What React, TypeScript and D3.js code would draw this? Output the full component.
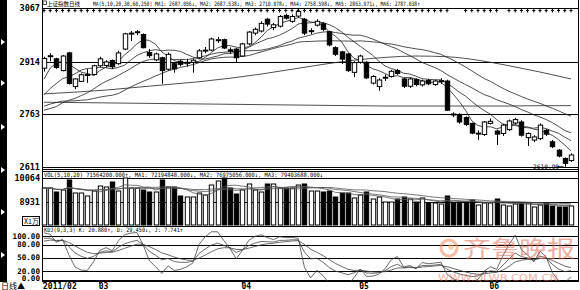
import React from 'react';
import * as d3 from 'd3';

// ---- data (Shanghai Composite daily, 2011-02-16 .. 2011-06-21) ----
const opens = [2895,2929,2922,2888,2939,2842,2857,2875,2877,2902,2903,2917,2908,2950,2995,2998,2992,2940,2919,2925,2892,2908,2915,2910,2912,2925,2946,2947,2976,2977,2948,2950,2930,2965,2996,3002,3036,3012,3016,3047,3030,3045,3036,3001,3019,3023,3000,2954,2942,2936,2883,2912,2912,2852,2842,2868,2871,2888,2864,2843,2862,2847,2860,2848,2857,2858,2763,2762,2753,2736,2707,2704,2736,2714,2707,2718,2737,2740,2695,2688,2692,2716,2683,2659,2635,2629];
const highs = [2928,2938,2925,2933,2942,2866,2880,2893,2905,2928,2918,2920,2945,2997,3002,3005,2995,2950,2940,2928,2940,2912,2920,2922,2922,2950,2956,2983,2985,2980,2955,2953,2968,3002,3012,3030,3040,3025,3048,3052,3050,3067.46,3040,3010,3036,3028,3003,2958,2945,2938,2915,2934,2915,2875,2866,2877,2890,2893,2867,2868,2866,2862,2864,2862,2866,2862,2768,2765,2756,2738,2716,2743,2750,2718,2735,2747,2752,2745,2710,2702,2736,2720,2688,2662,2638,2650];
const lows = [2885,2915,2893,2886,2848,2835,2855,2853,2874,2898,2898,2893,2905,2947,2973,2990,2952,2925,2915,2850,2888,2882,2900,2899,2882,2922,2938,2944,2968,2950,2937,2910,2928,2962,2990,2998,3015,3005,3012,3035,3026,3040,2990,2993,3015,3002,2958,2930,2907,2884,2869,2908,2864,2848,2830,2858,2868,2876,2838,2838,2843,2842,2846,2844,2850,2772,2754,2735,2728,2705,2688,2700,2733,2674,2700,2714,2733,2698,2671,2682,2688,2700,2665,2638,2610.99,2625];
const closes = [2923,2931,2897,2930,2851,2864,2876,2877,2902,2922,2913,2899,2939,2994,2996,3000,2954,2931,2936,2888,2935,2893,2906,2912,2918,2945,2947,2979,2977,2953,2944,2925,2965,2999,3007,3024,3022,3020,3044,3039,3044,3058,2996,3003,3030,3007,2962,2935,2921,2888,2911,2930,2867,2871,2861,2869,2886,2880,2843,2864,2848,2858,2850,2858,2859,2774,2761,2740,2733,2708,2708,2740,2742,2705,2731,2743,2747,2702,2707,2697,2731,2705,2669,2642,2621,2645];
// volume, in units of 10,000, as read against the panel's axis
const volumes = [9586,9586,9395,9490,9968,9347,9347,9204,9442,9682,9634,9873,9442,10064,9586,9586,9490,9395,9395,9968,9634,9634,9204,9156,9156,9347,9251,9729,9921,10064,9586,9299,9490,9777,9490,9395,9777,9777,9586,9586,9586,9729,9777,9442,9442,9395,9442,9156,9347,9347,9108,9251,9395,9060,9156,8917,8917,9060,9156,9060,8917,9108,8869,8869,8821,9204,8869,8917,8917,9012,8773,8869,8869,9060,8773,8725,8821,8869,8869,8678,8773,8869,8725,8678,8678,8725];
const volAxisMin = 7817;
// closes of the trading days before the first candle (for the moving averages)
const priorCloses = [2751.5,2759.1,2808.1,2852.7,2838.6,2824.2,2838.8,2791.8,2804.1,2821.3,2827.7,2791.4,2706.7,2708.9,2755.3,2715.3,2715.2,2688.0,2677.4,2708.8,2749.2,2752.8,2790.7,2799.0,2774.1,2771.6,2827.3,2899.2,2896.3];
// long averages every 5th candle
const ma60Samples = [2821,2826,2832,2840,2848,2856,2866,2878,2892,2906,2918,2926,2930,2928,2918,2902,2884,2864];
const ma250Samples = [2797,2796,2795,2794,2793,2792,2791,2790,2789,2788,2787,2786,2786,2786,2786,2786,2787,2787];
const sampleStep = 5;

const priceTicks = [3067, 2914, 2763, 2611];
const volTicks = [10064, 8931];
const kdjTicks = [100, 80, 50, 20, 0];
const monthLabels = ['2011/02', '03', '04', '05', '06'];
const monthStart = [0, 9, 32, 51, 72];
const markerGaps = [66, 67, 74];

const priceTitle = '上证指数日线';
const priceHeader = 'MA(5,10,20,30,60,250) MA1: 2687.056↓, MA2: 2687.538↓, MA3: 2710.078↓, MA4: 2758.598↓, MA5: 2863.971↓, MA6: 2787.038↑';
const volHeader = 'VOL(5,10,20) 71564200.000↑, MA1: 72194848.000↓, MA2: 76975056.000↓, MA3: 79403688.000↓';
const kdjHeader = 'KDJ(9,3,3) K: 20.880↑, D: 29.450↓, J: 7.741↑';

const LINE = '#222';
const MONO = "'DejaVu Sans Mono', monospace";

function movingAvg(series: number[], prior: number[], n: number) {
  const all = [...prior, ...series];
  return series.map((_, i) => {
    const j = i + prior.length;
    return d3.mean(all.slice(Math.max(0, j - n + 1), j + 1)) as number;
  });
}

export default function App() {
  const N = closes.length;
  const x = d3.scaleLinear().domain([0, N - 1]).range([44, 571]);
  const yP = d3.scaleLinear().domain([2610.99, 3067.46]).range([166.8, 8.3]);
  const yV = d3.scaleLinear().domain([volAxisMin, 10064]).range([225, 178]);
  const yK = d3.scaleLinear().domain([0, 100]).range([279.75, 236]);
  const bw = 4.4;

  const maLine = d3.line<number>().x((_, i) => x(i)).y(v => yP(v));
  const maSets = [5, 10, 20, 30].map(n => movingAvg(closes, priorCloses, n));
  const sampLine = d3.line<number>().x((_, i) => x(i * sampleStep)).y(v => yP(v)).curve(d3.curveMonotoneX);

  const vLine = d3.line<number>().x((_, i) => x(i)).y(v => yV(v));
  const vmas = [5, 10, 20].map(n => movingAvg(volumes, [], n));

  // KDJ(9,3,3)
  const H = [...priorCloses, ...highs];
  const L = [...priorCloses, ...lows];
  const C = [...priorCloses, ...closes];
  let K = 50, D = 50;
  const kA: number[] = [], dA: number[] = [], jA: number[] = [];
  for (let i = 0; i < C.length; i++) {
    const s = Math.max(0, i - 8);
    const hh = d3.max(H.slice(s, i + 1)) as number;
    const ll = d3.min(L.slice(s, i + 1)) as number;
    const rsv = hh === ll ? 50 : ((C[i] - ll) / (hh - ll)) * 100;
    K = (2 * K + rsv) / 3;
    D = (2 * D + K) / 3;
    if (i >= priorCloses.length) { kA.push(K); dA.push(D); jA.push(3 * K - 2 * D); }
  }
  const kLine = d3.line<number>().x((_, i) => x(i)).y(v => yK(v));

  return (
    <svg width={580} height={290} style={{ position: 'absolute', left: 0, top: 0, background: '#fff' }}
      fontFamily={MONO}>
      <defs>
        <clipPath id="cp-main"><rect x={42} y={7} width={536} height={161} /></clipPath>
        <clipPath id="cp-kdj"><rect x={42} y={228} width={536} height={53} /></clipPath>
      </defs>
      <rect x={0} y={0} width={580} height={290} fill="#fff" />
      {/* left strip */}
      <rect x={0} y={0} width={7} height={282} fill="#000" />
      {[42, 83, 127, 170, 212, 255].map(ty => (
        <path key={ty} d={`M1,${ty - 3}L5,${ty}L1,${ty + 3}Z`} fill="#fff" />
      ))}
      {/* frame */}
      <line x1={42.5} y1={0} x2={42.5} y2={282} stroke="#000" />
      <line x1={578.5} y1={0} x2={578.5} y2={282} stroke="#000" />
      {[169.5, 171.5, 226.5, 281.5].map(yy => (
        <line key={yy} x1={42} x2={578} y1={yy} y2={yy} stroke="#000" />
      ))}
      {/* price grid */}
      {priceTicks.map(t => (
        <g key={t}>
          <line x1={42} x2={578} y1={Math.round(yP(t)) + 0.5} y2={Math.round(yP(t)) + 0.5} stroke="#000" strokeWidth={1} />
          <text x={40} y={yP(t) + 3} textAnchor="end" fontSize={8.5} fontWeight="bold">{t}</text>
        </g>
      ))}
      {/* marker row */}
      {closes.map((_, i) => markerGaps.includes(i) ? null : (
        <path key={i} d={`M${x(i) - 1.5},10.5H${x(i) + 1.5}M${x(i)},8.5V12.5`} stroke="#000" strokeWidth={1} />
      ))}
      {/* header */}
      <rect x={43} y={1} width={3.5} height={3.5} fill="none" stroke="#000" strokeWidth={0.7} />
      <text x={47} y={6.3} fontSize={6} textLength={33} lengthAdjust="spacingAndGlyphs"
        fontFamily="'Noto Sans CJK SC'">{priceTitle}</text>
      <text x={93} y={6.3} fontSize={6} textLength={327} lengthAdjust="spacingAndGlyphs">{priceHeader}</text>
      {/* moving averages */}
      <g clipPath="url(#cp-main)" fill="none" stroke={LINE} strokeWidth={0.8}>
        {maSets.map((m, i) => <path key={i} d={maLine(m) || ''} />)}
        <path d={sampLine(ma60Samples) || ''} />
        <path d={sampLine(ma250Samples) || ''} />
      </g>
      {/* candles */}
      <g>
        {closes.map((c, i) => {
          const o = opens[i];
          const up = c >= o;
          const top = yP(Math.max(o, c));
          const bot = yP(Math.min(o, c));
          const cx = Math.round(x(i)) + 0.5;
          return (
            <g key={i}>
              <line x1={cx} x2={cx} y1={yP(highs[i])} y2={yP(lows[i])} stroke="#000" strokeWidth={1} />
              <rect x={cx - bw / 2} y={top} width={bw} height={Math.max(1, bot - top)}
                fill={up ? '#fff' : '#000'} stroke="#000" strokeWidth={1} />
            </g>
          );
        })}
      </g>
      <text x={533} y={168.5} fontSize={6.2}>2610.99</text>
      <path d={`M557,166.5H561L${x(84) - 1},${yP(2610.99)}`} fill="none" stroke="#000" strokeWidth={0.7} />

      {/* volume panel */}
      <text x={44} y={176.5} fontSize={6} textLength={279} lengthAdjust="spacingAndGlyphs">{volHeader}</text>
      {volTicks.map(t => (
        <g key={t}>
          <line x1={42} x2={578} y1={Math.round(yV(t)) + 0.5} y2={Math.round(yV(t)) + 0.5} stroke="#000" />
          <text x={40} y={yV(t) + 3} textAnchor="end" fontSize={8.5} fontWeight="bold">{t}</text>
        </g>
      ))}
      {volumes.map((v, i) => {
        const up = closes[i] >= opens[i];
        const cx = Math.round(x(i)) + 0.5;
        return (
          <rect key={i} x={cx - bw / 2} y={yV(v)} width={bw} height={yV(volAxisMin) - yV(v)}
            fill={up ? '#fff' : '#000'} stroke="#000" strokeWidth={1} />
        );
      })}
      <g fill="none" stroke="#555" strokeWidth={0.8}>
        {vmas.map((m, i) => <path key={i} d={vLine(m) || ''} />)}
      </g>
      <rect x={22.5} y={216.5} width={17} height={9} fill="#fff" stroke="#000" />
      <text x={24} y={224} fontSize={7} fontFamily="'Noto Sans CJK SC'">X1万</text>

      {/* KDJ panel */}
      <text x={44} y={232} fontSize={6} textLength={139} lengthAdjust="spacingAndGlyphs">{kdjHeader}</text>
      {kdjTicks.map(t => (
        <g key={t}>
          <line x1={42} x2={578} y1={Math.round(yK(t)) + 0.5} y2={Math.round(yK(t)) + 0.5} stroke="#000" />
          <text x={40} y={t === 0 ? 281 : yK(t) + 2.5} textAnchor="end" fontSize={7.6} fontWeight="bold">{t.toFixed(2)}</text>
        </g>
      ))}
      <g clipPath="url(#cp-kdj)" fill="none" stroke="#444" strokeWidth={0.8}>
        <path d={kLine(kA) || ''} />
        <path d={kLine(dA) || ''} />
        <path d={kLine(jA) || ''} />
      </g>

      {/* date axis */}
      {monthStart.map((m, i) => (
        <g key={i}>
          <line x1={x(m)} x2={x(m)} y1={281} y2={284} stroke="#000" />
          <text x={x(m) - 1} y={289} fontSize={8} fontWeight="bold">{monthLabels[i]}</text>
        </g>
      ))}
      <text x={1} y={289} fontSize={8} fontFamily="'Noto Sans CJK SC'">日线▲</text>

      {/* watermark */}
      <g opacity={0.55}>
        <circle cx={449} cy={248} r={8} fill="none" stroke="#f08a60" strokeWidth={3} />
        <circle cx={451} cy={247} r={3} fill="#f5b070" />
        <text x={463} y={257} fontSize={23} fill="#e2705a" fontFamily="'Noto Sans CJK SC'" textLength={112} lengthAdjust="spacingAndGlyphs">齐鲁晚报</text>
        <text x={438} y={281} fontSize={8} fill="#e2705a" fontFamily="'DejaVu Sans'" textLength={120} lengthAdjust="spacingAndGlyphs">WWW.QLWB.COM.CN</text>
      </g>
    </svg>
  );
}
